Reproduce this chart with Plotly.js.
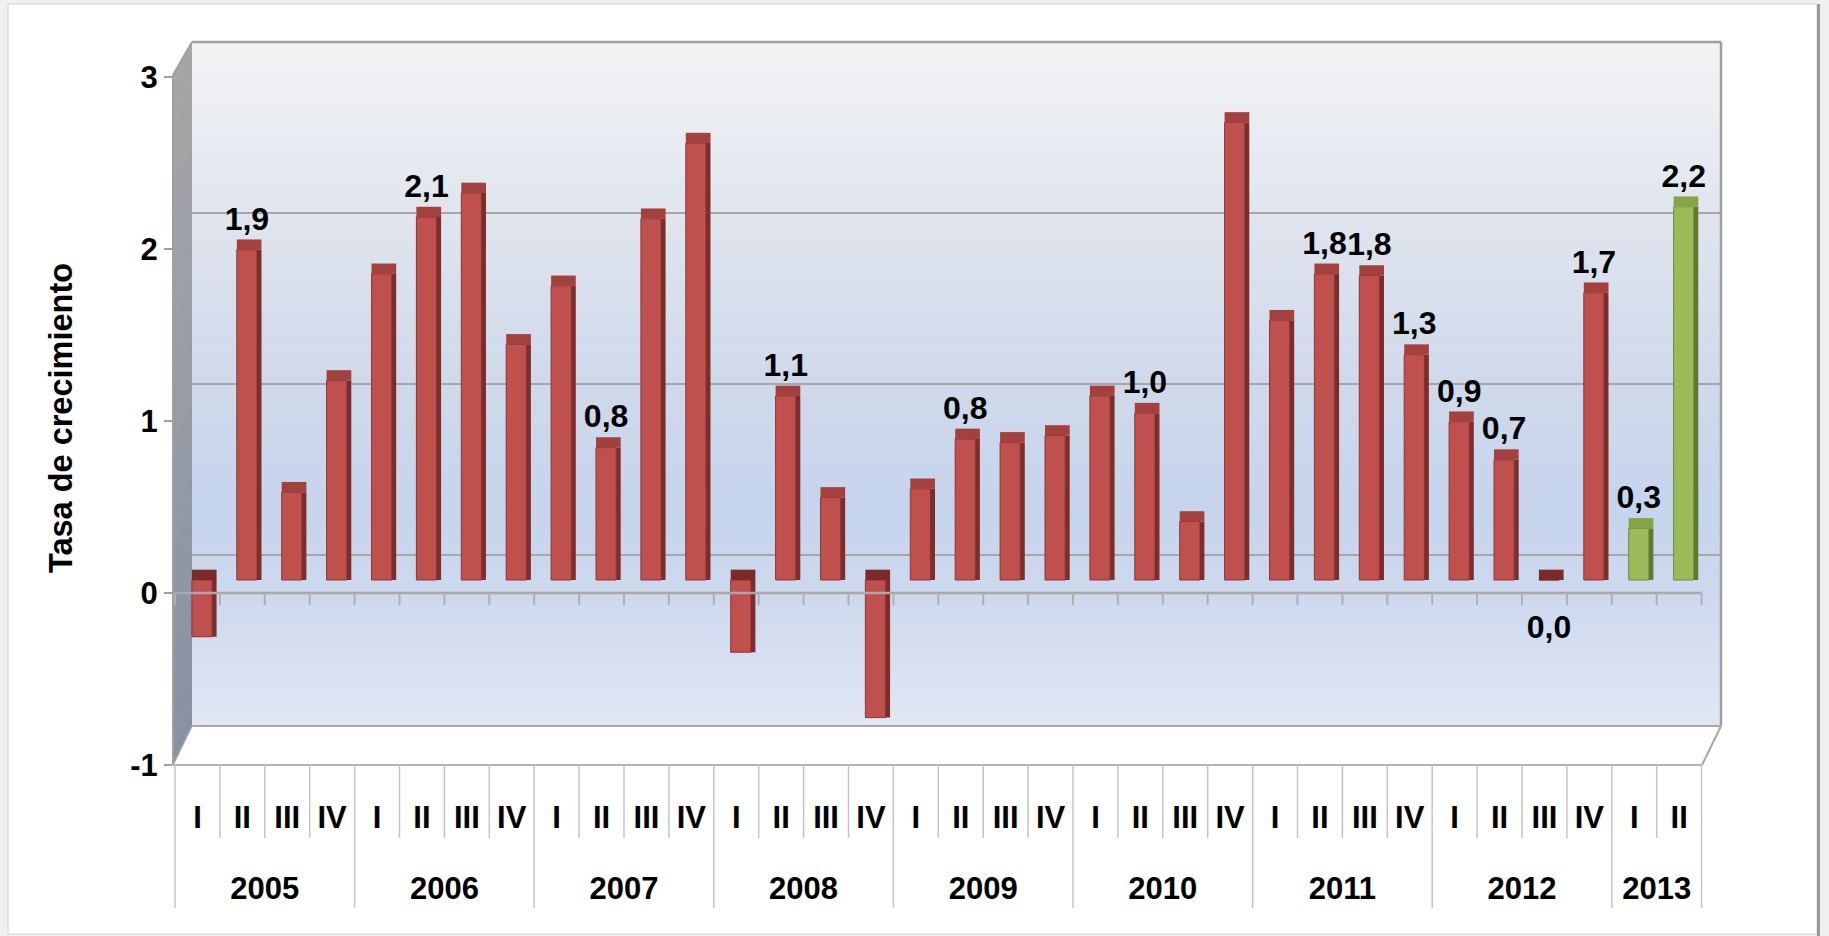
<!DOCTYPE html>
<html>
<head>
<meta charset="utf-8">
<script src="https://cdn.plot.ly/plotly-3.0.1.min.js"></script>
<style>
html,body{margin:0;padding:0;background:#ffffff;}
#chart{width:1829px;height:936px;}
</style>
</head>
<body>
<div id="chart"></div>
<script>
// ---------------- DATA ----------------
const quarters = ['I','II','III','IV','I','II','III','IV','I','II','III','IV','I','II','III','IV',
                  'I','II','III','IV','I','II','III','IV','I','II','III','IV','I','II','III','IV','I','II'];
const years = ['2005','2005','2005','2005','2006','2006','2006','2006','2007','2007','2007','2007',
               '2008','2008','2008','2008','2009','2009','2009','2009','2010','2010','2010','2010',
               '2011','2011','2011','2011','2012','2012','2012','2012','2013','2013'];
const values = [-0.33, 1.92, 0.51, 1.16,
                 1.78, 2.11, 2.25, 1.37,
                 1.71, 0.77, 2.10, 2.54,
                -0.42, 1.07, 0.48, -0.80,
                 0.53, 0.82, 0.80, 0.84,
                 1.07, 0.97, 0.34, 2.66,
                 1.51, 1.78, 1.77, 1.31,
                 0.92, 0.70, 0.00, 1.67,
                 0.30, 2.17];
const labels = ['', '1,9', '', '', '', '2,1', '', '', '', '0,8', '', '', '', '1,1', '', '',
                '', '0,8', '', '', '', '1,0', '', '', '', '1,8', '1,8', '1,3', '0,9', '0,7', '0,0', '1,7',
                '0,3', '2,2'];
const yTickVals = [-1, 0, 1, 2, 3];
const highlightYear = '2013';
const yTitle = 'Tasa de crecimiento';

// ---------------- STYLE / GEOMETRY ----------------
const FONT = 'Liberation Sans, Arial, Helvetica, sans-serif';
const L = 173, R = 1721, T = 40, B = 765;
const PW = R - L, PH = B - T;
const xp = px => (px - L) / PW;
const yp = py => (B - py) / PH;

const RED = '#c0504d', RED_SIDE = '#7c2e2c', RED_CAP = '#a3413e', RED_CAP_DARK = '#7a2b29';
const GREEN = '#9bbb59', GREEN_SIDE = '#5f7a2e', GREEN_CAP = '#86a447', GREEN_CAP_DARK = '#5f7a2e';
const GRID = '#a6a6a6';

const idx = values.map((_, i) => i);
const isHi = years.map(y => y === highlightYear);
const capH = 0.06;

function hex2rgb(h){return [parseInt(h.slice(1,3),16),parseInt(h.slice(3,5),16),parseInt(h.slice(5,7),16)];}
function interp(stops, v){
  if (v >= stops[0][0]) return stops[0][1];
  for (let i = 0; i < stops.length - 1; i++){
    const [v0,c0] = stops[i], [v1,c1] = stops[i+1];
    if (v <= v0 && v >= v1){
      const t = (v0 - v) / (v0 - v1);
      const a = hex2rgb(c0), b = hex2rgb(c1);
      const c = a.map((x,k)=>Math.round(x + (b[k]-x)*t));
      return 'rgb(' + c.join(',') + ')';
    }
  }
  return stops[stops.length-1][1];
}

const shapes = [];
// chart frame
shapes.push({type:'rect', xref:'paper', yref:'paper', x0:xp(8), x1:xp(1817), y0:yp(934), y1:yp(4),
  fillcolor:'#ffffff', line:{color:'#d4d4d4', width:1}, layer:'below'});
shapes.push({type:'line', xref:'paper', yref:'paper', x0:xp(1818.5), x1:xp(1818.5), y0:yp(936), y1:yp(4),
  line:{color:'#9a9a9a', width:3}, layer:'below'});

// back wall gradient (y3 units)
const wallStops = [[3,'#f3f3f4'],[2,'#e0e5ee'],[1,'#cfd9eb'],[0.3,'#c6d4ec'],[-0.2,'#ccd8ee'],[-1,'#e0e7f4']];
const step = 0.04;
for (let v = -1; v < 3 - 1e-9; v += step){
  shapes.push({type:'rect', xref:'paper', yref:'y3', x0:xp(192), x1:1, y0:v, y1:Math.min(3, v + step + 0.01),
    fillcolor: interp(wallStops, v + step/2), line:{width:0}, layer:'below'});
}
// back wall gridlines and edges
[0,1,2].forEach(g => shapes.push({type:'line', xref:'paper', yref:'y3', x0:xp(192), x1:1, y0:g, y1:g,
  line:{color:GRID, width:2}, layer:'below'}));
shapes.push({type:'line', xref:'paper', yref:'y3', x0:xp(192), x1:1, y0:3, y1:3, line:{color:'#a0a0a0', width:2.5}, layer:'below'});
shapes.push({type:'line', xref:'paper', yref:'y3', x0:1, x1:1, y0:-1, y1:3, line:{color:'#a0a0a0', width:2.5}, layer:'below'});

// left wall (slices for gradient)
const nS = 40;
for (let s = 0; s < nS; s++){
  const t0 = s/nS, t1 = (s+1)/nS;
  const f0 = 75 + 690*t0, f1 = 75 + 690*t1 + 1;
  const b0 = 42 + 684*t0, b1 = 42 + 684*t1 + 1;
  const col = interp([[1,'#a5a5a5'],[0.5,'#979ca5'],[0,'#8791a3']], 1 - (t0+t1)/2);
  shapes.push({type:'path', xref:'paper', yref:'paper',
    path:'M'+xp(173)+','+yp(f0)+' L'+xp(192)+','+yp(b0)+' L'+xp(192)+','+yp(b1)+' L'+xp(173)+','+yp(f1)+' Z',
    fillcolor:col, line:{width:0}, layer:'below'});
}
// floor
shapes.push({type:'path', xref:'paper', yref:'paper',
  path:'M'+xp(192)+','+yp(726)+' L'+xp(1721)+','+yp(726)+' L'+xp(1702)+','+yp(765)+' L'+xp(173)+','+yp(765)+' Z',
  fillcolor:'#ffffff', line:{width:0}, layer:'below'});
const edge = (x0,y0,x1,y1,c,w) => shapes.push({type:'line', xref:'paper', yref:'paper',
  x0:xp(x0), y0:yp(y0), x1:xp(x1), y1:yp(y1), line:{color:c, width:w}, layer:'below'});
edge(192,726,1721,726,'#a6a6a6',2);
edge(1721,726,1702,765,'#a6a6a6',2);
edge(173,765,1702,765,'#b3b3b3',2);
edge(192,726,173,765,'#a6a6a6',1.5);
edge(173,75,173,765,'#a0a0a0',2);
edge(173,75,192,42,'#a0a0a0',2);

// category dividers under the axis (x2 units)
const divTopQ = yp(765), divBotQ = yp(838), divBotY = yp(908);
for (let k = 0; k <= quarters.length; k++){
  const newYear = (k === 0 || k === quarters.length || years[k] !== years[k-1]);
  shapes.push({type:'line', xref:'x2', yref:'paper', x0:k-0.5, x1:k-0.5, y0:divTopQ, y1: newYear ? divBotY : divBotQ,
    line:{color:'#c4c4c4', width:1.5}, layer:'below'});
}
// front zero line with tick marks
shapes.push({type:'line', xref:'x2', yref:'y', x0:-0.5, x1:quarters.length-0.5, y0:0, y1:0,
  line:{color:'#a9a9a9', width:2.5}, layer:'above'});
for (let k = 0; k <= quarters.length; k++){
  shapes.push({type:'line', xref:'x2', yref:'y', x0:k-0.5, x1:k-0.5, y0:0, y1:-0.07,
    line:{color:'#b0b0b0', width:2}, layer:'above'});
}

// year group centres
const yearNames = [...new Set(years)];
const yearCenters = yearNames.map(y => {
  const ids = idx.filter(i => years[i] === y);
  return (ids[0] + ids[ids.length-1]) / 2;
});

// ---------------- TRACES ----------------
const helper = (xa, ya) => ({type:'scatter', x:idx, y:values, xaxis:xa, yaxis:ya, mode:'markers',
  marker:{opacity:0, size:1}, hoverinfo:'skip', showlegend:false});

const traces = [
  helper('x','y'), helper('x2','y'), helper('x3','y'), helper('x','y3'),
  {type:'bar', x:idx, y:values, xaxis:'x', yaxis:'y2', width:0.45, offset:-0.225,
   marker:{color: isHi.map(h => h ? GREEN : RED), line:{color: isHi.map(h => h ? '#6f8a3c' : '#8f3532'), width:1}},
   hoverinfo:'skip', showlegend:false},
  {type:'bar', x:idx, y:values, xaxis:'x', yaxis:'y2', width:0.1, offset:0.225,
   marker:{color: isHi.map(h => h ? GREEN_SIDE : RED_SIDE), line:{width:0}},
   hoverinfo:'skip', showlegend:false},
  {type:'bar', x:idx, y:values.map(() => capH), base:values.map(v => Math.max(v, 0)), xaxis:'x', yaxis:'y2',
   width:0.55, offset:-0.225,
   marker:{color: values.map((v,i) => isHi[i] ? (v > 0 ? GREEN_CAP : GREEN_CAP_DARK) : (v > 0 ? RED_CAP : RED_CAP_DARK)), line:{width:0}},
   hoverinfo:'skip', showlegend:false},
  {type:'scatter', mode:'markers+text', x:idx, y:values, xaxis:'x', yaxis:'y2', text:labels,
   textposition: values.map(v => v > 0 ? 'top center' : 'bottom center'),
   marker:{size: values.map(v => v > 0 ? 18 : 52), opacity:0},
   textfont:{family:FONT, size:32, color:'#000000', weight:'bold'},
   hoverinfo:'skip', showlegend:false}
];

// ---------------- LAYOUT ----------------
const tickFont = {family:FONT, size:31, color:'#000000', weight:'bold'};
const layout = {
  width:1829, height:936, autosize:false,
  margin:{l:L, r:1829-R, t:T, b:936-B, pad:0},
  paper_bgcolor:'#f0f0f0', plot_bgcolor:'rgba(0,0,0,0)',
  barmode:'overlay', showlegend:false,
  font:{family:FONT, color:'#000000'},
  xaxis:{range:[(L-202)/44.9, (R-202)/44.9], visible:false, fixedrange:true},
  xaxis2:{overlaying:'x', anchor:'y', side:'bottom', range:[(L-197.45)/44.9, (R-197.45)/44.9],
    tickmode:'array', tickvals:idx, ticktext:quarters, ticks:'', ticklen:0, tickangle:0,
    showline:false, showgrid:false, zeroline:false, tickfont:tickFont, ticklabelstandoff:31, fixedrange:true},
  xaxis3:{overlaying:'x', anchor:'y', side:'bottom', range:[(L-197.45)/44.9, (R-197.45)/44.9],
    tickmode:'array', tickvals:yearCenters, ticktext:yearNames, ticks:'', ticklen:0, tickangle:0,
    showline:false, showgrid:false, zeroline:false, tickfont:tickFont, ticklabelstandoff:102, fixedrange:true},
  yaxis:{range:[-1, (593-T)/172], anchor:'x', tickmode:'array', tickvals:yTickVals, ticktext:yTickVals.map(String),
    ticks:'outside', ticklen:8, tickwidth:2, tickcolor:'#a0a0a0', showline:false, showgrid:false, zeroline:false,
    tickfont:{family:FONT, size:31, color:'#000000', weight:'bold'}, fixedrange:true},
  yaxis2:{overlaying:'y', range:[-(B-580)/172, (580-T)/172], visible:false, fixedrange:true},
  yaxis3:{overlaying:'y', range:[-(B-555)/171, (555-T)/171], visible:false, fixedrange:true},
  shapes:shapes,
  annotations:[{text:yTitle, xref:'paper', yref:'paper', x:xp(61), y:yp(418), textangle:-90,
    showarrow:false, xanchor:'center', yanchor:'middle',
    font:{family:FONT, size:32.5, color:'#000000', weight:'bold'}}]
};

Plotly.newPlot('chart', traces, layout, {displayModeBar:false, staticPlot:true});
</script>
</body>
</html>
